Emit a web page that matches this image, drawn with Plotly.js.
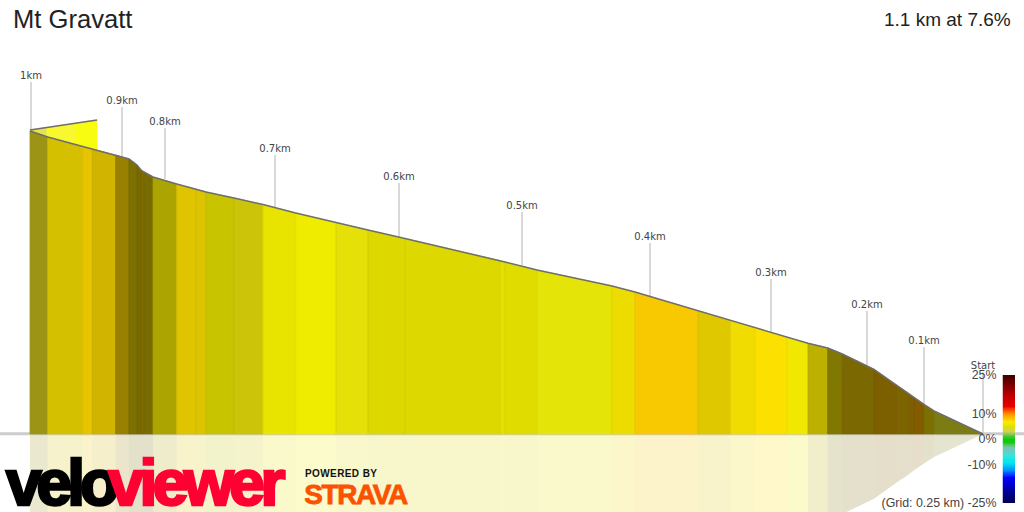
<!DOCTYPE html>
<html><head><meta charset="utf-8">
<script src="https://cdn.plot.ly/plotly-3.0.1.min.js"></script>
<style>
html,body{margin:0;padding:0;background:#fff}
#chart{width:1024px;height:512px}
.annotation[data-index="1"] text,.annotation[data-index="2"] text{stroke-width:2.6px;paint-order:stroke}
.annotation[data-index="1"] text{stroke:#000;letter-spacing:-5px}
.annotation[data-index="2"] text{stroke:#ff0033;letter-spacing:-4.4px}
.annotation[data-index="3"] text{letter-spacing:.4px}
.annotation[data-index="4"] text{letter-spacing:-1.4px;stroke:#fc5200;stroke-width:.8px}
</style></head><body><div id="chart"></div>
<script>
var climbName = 'Mt Gravatt';
var climbSummary = '1.1 km at 7.6%';
var gridNote = '(Grid: 0.25 km) -25%';
var brandBlack = 'velo', brandRed = 'viewer', poweredBy = 'POWERED BY', partner = 'STRAVA';

// Profile (horizontal position, height above the base line)
var profilePos = [30,47.7,82.7,92.3,115.7,129,137,141,144,153,176.7,196,206,234,263,295.7,336,368,405,500,505,537,612,635,698,730.7,755,787,808,827.7,842.3,874,897.3,908.3,914,924.3,934,983];
var profileHeight = [303,297,287.5,285,279,275,269,264,262,257,250,245,242,236,229.5,221,211.3,204,195.5,173.5,172,164,148,142,123.3,113.3,106.7,96.7,90.7,86,80,64.7,48,40.7,36.3,29.3,23,0];
var segmentColors = ['#9c9414','#d5c000','#e8c400','#d0b400','#988000','#7c7000','#786800','#7c6c00','#786c00','#aca400','#e0c400','#dcc400','#c8c400','#ccc408','#e8e400','#f0ec00','#e4e008','#dcd800','#dcd800','#e4e000','#e0dc00','#e4e408','#ecdc00','#f8c800','#e0c800','#f0dc00','#fce000','#f0e800','#bcb000','#807800','#7c6800','#7c6000','#7c6400','#7c6000','#845c00','#7c7000','#7c7c14'];

// Small bright wedge at the top of the climb
var wedgePos = [30,47,76,97];
var wedgeTop = [304,306.5,310.8,314];
var wedgeBottom = [303,297,289.4,284];
var wedgeColors = ['#e4e450','#f8f830','#f8fc10'];

// Distance markers
var markerLabels = ['1km','0.9km','0.8km','0.7km','0.6km','0.5km','0.4km','0.3km','0.2km','0.1km','Start'];
var markerPos = [31,122,165,275,399,522,650,771,867,924,983];
var markerBase = [303,278,255,226,197,169,138,102,69,29,0];
var markerTop = [352,327,306,279,251,222,191,155,123,87,62];
var markerLabelBase = [353,328,307,280,252,223,192,156,124,88,63];

// Gradient scale
var scaleValues = [-25,-24,-23,-22,-21,-20,-19,-18,-17,-16,-15,-14,-13,-12,-11,-10,-9,-8,-7,-6,-5,-4,-3,-2,-1,0,1,2,3,4,5,6,7,8,9,10,11,12,13,14,15,16,17,18,19,20,21,22,23,24,25];
var scaleStops = [[-25,'#000050'],[-20,'#0000a0'],[-15,'#0000ff'],[-12,'#0090ff'],[-9,'#00e8f0'],[-6,'#40e0d8'],[-3,'#80c0b0'],[-1.2,'#10d010'],[0,'#10c810'],[1.5,'#60c840'],[3,'#d0d060'],[5,'#e0e000'],[7,'#ffe800'],[9,'#ffb000'],[11,'#ff6000'],[13,'#e80000'],[18,'#b00000'],[25,'#400000']];
var scaleTicks = [25,10,0,-10,-25];
var scaleTickText = ['25%','10%','0%','-10%',gridNote];

var traces = [];
function poly(x0,x1,a0,a1,b0,b1,color,opacity,lineWidth){
  return {x:[x0,x0,x1,x1,x0],y:[a0,b0,b1,a1,a0],mode:'lines',fill:'toself',fillcolor:color,
    line:{color:color,width:lineWidth},opacity:opacity,hoverinfo:'skip',showlegend:false};
}
function seams(tops,color,sign){
  var xs=[],ys=[];
  for(var k=1;k<tops.length-1;k++){xs.push(profilePos[k],profilePos[k],null);ys.push(0,sign*tops[k],null);}
  return {x:xs,y:ys,mode:'lines',line:{color:color,width:1},hoverinfo:'skip',showlegend:false};
}
// reflection
for(var i=0;i<segmentColors.length;i++){
  traces.push(poly(profilePos[i],profilePos[i+1],0,0,-profileHeight[i],-profileHeight[i+1],segmentColors[i],0.2,0));
}
// base line
traces.push({x:[0,1024],y:[0.3,0.3],mode:'lines',line:{color:'#cccccc',width:3},hoverinfo:'skip',showlegend:false});
// marker stems
markerPos.forEach(function(p,i){
  traces.push({x:[p,p],y:[markerBase[i],markerTop[i]],mode:'lines',line:{color:'#cccccc',width:1.5},hoverinfo:'skip',showlegend:false});
});
// wedge
for(i=0;i<wedgeColors.length;i++){
  traces.push(poly(wedgePos[i],wedgePos[i+1],wedgeBottom[i],wedgeBottom[i+1],wedgeTop[i],wedgeTop[i+1],wedgeColors[i],1,0.8));
}
traces.push({x:wedgePos,y:wedgeTop,mode:'lines',line:{color:'#6e6e6e',width:1.5},hoverinfo:'skip',showlegend:false});
// climb
for(i=0;i<segmentColors.length;i++){
  traces.push(poly(profilePos[i],profilePos[i+1],0,0,profileHeight[i],profileHeight[i+1],segmentColors[i],1,0.8));
}
traces.push(seams(profileHeight,'rgba(0,0,0,0.05)',1));
traces.push({x:profilePos,y:profileHeight,mode:'lines',line:{color:'#6e6e6e',width:1.5},hoverinfo:'skip',showlegend:false});
// marker labels
traces.push({x:markerPos,y:markerLabelBase,mode:'text',text:markerLabels,textposition:'top center',
  textfont:{family:'DejaVu Sans',size:10,color:'#444444'},hoverinfo:'skip',showlegend:false,cliponaxis:false});
// gradient scale
var lo=scaleValues[0], hi=scaleValues[scaleValues.length-1];
traces.push({type:'heatmap',xaxis:'x2',yaxis:'y2',x:[0,1],y:scaleValues,
  z:scaleValues.map(function(v){return [v,v];}),zmin:lo,zmax:hi,zsmooth:'best',showscale:false,hoverinfo:'skip',
  colorscale:scaleStops.map(function(s){return [(s[0]-lo)/(hi-lo),s[1]];})});

var sans='"Liberation Sans",Arial,sans-serif';
var layout={
  width:1024,height:512,margin:{l:0,r:0,t:0,b:0},paper_bgcolor:'#fff',plot_bgcolor:'rgba(0,0,0,0)',showlegend:false,
  title:{text:climbName,x:13/1024,xanchor:'left',xref:'paper',y:1-19/512,yanchor:'middle',font:{family:sans,size:25.6,color:'#222222'}},
  xaxis:{range:[0,1024],visible:false,fixedrange:true,domain:[0,1]},
  yaxis:{range:[-78,434],visible:false,fixedrange:true,domain:[0,1]},
  xaxis2:{range:[0,1],domain:[1002.5/1024,1015/1024],anchor:'y2',visible:false,fixedrange:true},
  yaxis2:{range:[-25,25],domain:[(512-503)/512,(512-375)/512],anchor:'x2',side:'left',fixedrange:true,
    showgrid:false,zeroline:false,showline:false,ticks:'',tickmode:'array',tickvals:scaleTicks,ticktext:scaleTickText,
    tickfont:{family:sans,size:12.4,color:'#444444'},ticklabelstandoff:5,automargin:false},
  annotations:[
    {text:climbSummary,xref:'paper',yref:'paper',x:1012.5/1024,y:1-19/512,xanchor:'right',yanchor:'middle',showarrow:false,font:{family:sans,size:19,color:'#222222'}},
    {text:brandBlack,xref:'paper',yref:'paper',x:-6/1024,y:1-483/512,xanchor:'left',yanchor:'middle',showarrow:false,font:{family:sans,size:64,weight:700,color:'#000'}},
    {text:brandRed,xref:'paper',yref:'paper',x:93/1024,y:1-483/512,xanchor:'left',yanchor:'middle',showarrow:false,font:{family:sans,size:64,weight:700,color:'#ff0033'}},
    {text:poweredBy,xref:'paper',yref:'paper',x:305/1024,y:1-473.5/512,xanchor:'left',yanchor:'middle',showarrow:false,font:{family:sans,size:10,weight:700,color:'#111'}},
    {text:partner,xref:'paper',yref:'paper',x:298/1024,y:1-494/512,xanchor:'left',yanchor:'middle',showarrow:false,font:{family:sans,size:28,weight:700,color:'#fc5200'}}
  ]
};
Plotly.newPlot('chart',traces,layout,{staticPlot:true,displayModeBar:false});
</script></body></html>
